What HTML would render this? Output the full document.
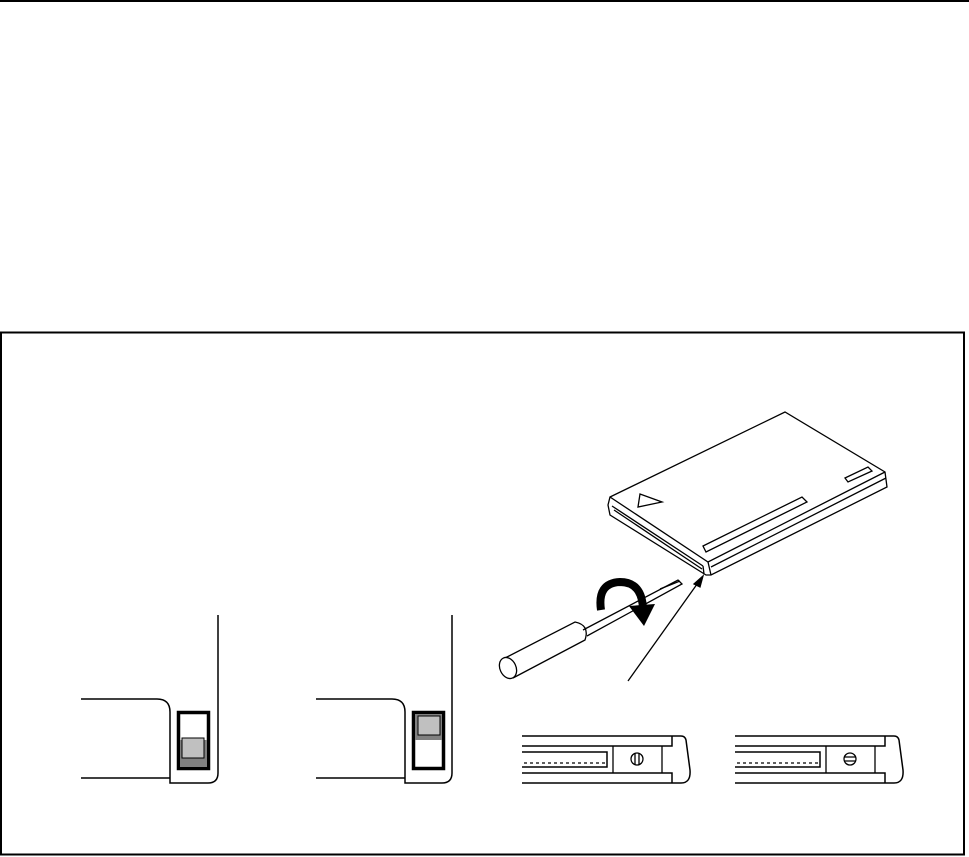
<!DOCTYPE html>
<html><head><meta charset="utf-8"><style>html,body{margin:0;padding:0;background:#fff}svg{display:block}</style></head>
<body>
<svg width="969" height="857" viewBox="0 0 969 857" xmlns="http://www.w3.org/2000/svg" fill="none" stroke="#000" stroke-width="1.3">
<line x1="0" y1="1" x2="969" y2="1" stroke-width="2"/>
<rect x="1" y="332.5" width="963" height="522" stroke-width="2"/>

<!-- card -->
<path d="M610,497 L785,412 L885,472 L887,487 L711,575 L706,575 L610,515 L608,505 Z" fill="#fff"/>
<path d="M610,497 L708,562 L885,472"/>
<path d="M708,562 L711,575"/>
<path d="M612,506 L703,566 M614,510 L702,569 M703,566 L704,574"/>
<path d="M711,567 L886,478"/>
<path d="M638,507 L640,494 L662,502 Z"/>
<path d="M703,546 L802,497 L807,502 L706,552 Z"/>
<path d="M845,478 L868,467 L872,471 L848,482 Z"/>

<!-- screwdriver -->
<path d="M583,630 L678,580 L682,584 L587,636"/>
<path d="M660,589 L680,581"/>
<path d="M505,658 L575,622 Q590,625 585,640 L513,678"/>
<ellipse cx="508" cy="668" rx="8" ry="11" transform="rotate(-25 508 668)" fill="#fff"/>
<!-- rotation arrow -->
<path d="M601,610 Q597,583 620,582 Q642,582 643,609" stroke-width="8"/>
<path d="M629,606 L655,604 L644,626 Z" fill="#000" stroke="none"/>
<!-- leader -->
<line x1="628" y1="681" x2="700" y2="580"/>
<path d="M703,576 L694,584 L700,587 Z" fill="#000"/>

<!-- switch 1 -->
<g stroke-width="1.5">
<path d="M218,615 L218,773 Q218,783 208,783 L170,783 L170,712 Q170,699 157,699 L81,699"/>
<path d="M81,778 L170,778"/>
</g>
<rect x="178.5" y="712.5" width="30" height="56" stroke-width="3.5"/>
<rect x="180" y="740" width="27" height="27" fill="#808080" stroke="none"/>
<rect x="182" y="738" width="22" height="20" fill="#c0c0c0" stroke-width="1"/>

<!-- switch 2 -->
<g stroke-width="1.5">
<path d="M452,615 L452,773 Q452,783 442,783 L405,783 L405,712 Q405,699 392,699 L316,699"/>
<path d="M316,778 L405,778"/>
</g>
<rect x="413.5" y="712.5" width="30" height="56" stroke-width="3.5"/>
<rect x="415" y="714" width="27" height="26" fill="#808080" stroke="none"/>
<rect x="418" y="716" width="22" height="19" fill="#c0c0c0" stroke-width="1"/>

<!-- edge view 1 -->
<g>
<path d="M522,736 L681,736 Q685,736 686,740 L690,770 Q691,783 681,783 L522,783" stroke-width="1.5"/>
<path d="M522,746 L672,746 L672,736 M522,773 L672,773 L672,783" stroke-width="1.5"/>
<path d="M613,746 L613,773 M662,746 L662,773"/>
<path d="M522,752 L607,752 L607,767 L522,767" stroke-width="1.5"/>
<path d="M524,763 L605,763" stroke-dasharray="3,3"/>
<circle cx="637" cy="759" r="6"/>
<path d="M635,753 L635,765 M639,753 L639,765"/>
</g>
<!-- edge view 2 -->
<g transform="translate(213,0)">
<path d="M522,736 L681,736 Q685,736 686,740 L690,770 Q691,783 681,783 L522,783" stroke-width="1.5"/>
<path d="M522,746 L672,746 L672,736 M522,773 L672,773 L672,783" stroke-width="1.5"/>
<path d="M613,746 L613,773 M662,746 L662,773"/>
<path d="M522,752 L607,752 L607,767 L522,767" stroke-width="1.5"/>
<path d="M524,763 L605,763" stroke-dasharray="3,3"/>
<circle cx="637" cy="759" r="6"/>
<path d="M631,757 L643,757 M631,761 L643,761"/>
</g>
</svg>
</body></html>
